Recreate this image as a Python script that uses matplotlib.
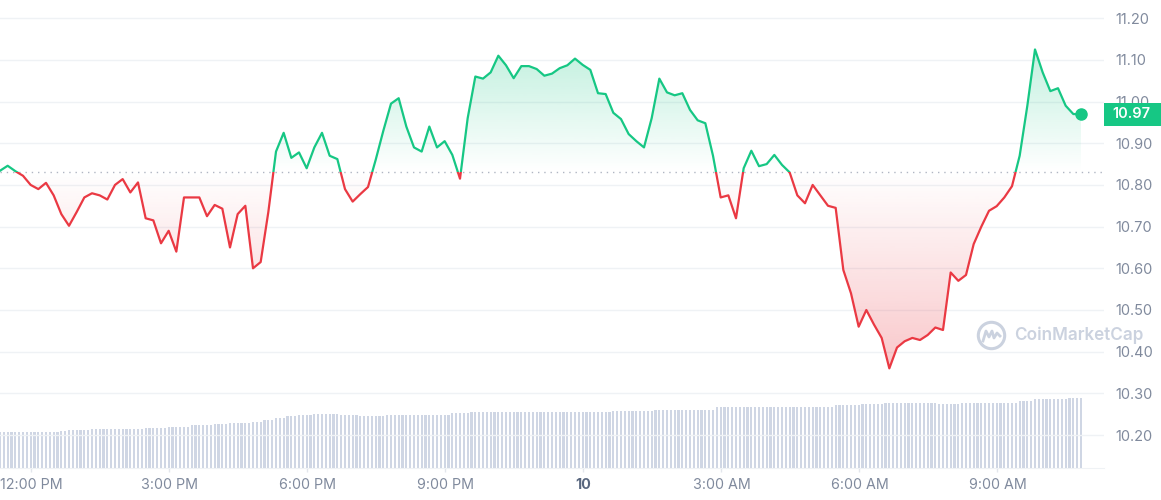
import matplotlib
matplotlib.use("Agg")
import matplotlib.pyplot as plt
import matplotlib.dates as mdates
import matplotlib.colors as mcolors
from matplotlib.patches import Rectangle
from matplotlib.transforms import blended_transform_factory
import numpy as np
import pandas as pd

plt.rcParams['font.family'] = ['Inter', 'DejaVu Sans']

GREEN = '#16c784'
RED = '#ea3943'
GRID = '#eff2f5'
TICK = '#808a9d'

# price, one point every 10 minutes
start = '2023-11-09 11:19'
price = [
    10.834, 10.846, 10.833, 10.822, 10.800, 10.790, 10.805, 10.775, 10.730, 10.702,
    10.735, 10.770, 10.780, 10.775, 10.765, 10.800, 10.814, 10.782, 10.806, 10.720,
    10.715, 10.660, 10.690, 10.640, 10.770, 10.770, 10.770, 10.725, 10.752, 10.743,
    10.650, 10.730, 10.750, 10.600, 10.615, 10.735, 10.880, 10.925, 10.865, 10.878,
    10.840, 10.890, 10.925, 10.870, 10.862, 10.790, 10.760, 10.778, 10.795, 10.860,
    10.930, 10.995, 11.008, 10.940, 10.890, 10.880, 10.940, 10.890, 10.905, 10.872,
    10.815, 10.960, 11.060, 11.055, 11.070, 11.110, 11.087, 11.056, 11.085, 11.085,
    11.078, 11.062, 11.067, 11.080, 11.087, 11.103, 11.088, 11.076, 11.020, 11.018,
    10.973, 10.958, 10.922, 10.905, 10.890, 10.960, 11.055, 11.022, 11.015, 11.020,
    10.980, 10.955, 10.948, 10.870, 10.770, 10.775, 10.720, 10.840, 10.882, 10.845,
    10.850, 10.872, 10.848, 10.830, 10.775, 10.756, 10.800, 10.775, 10.750, 10.745,
    10.596, 10.540, 10.460, 10.500, 10.465, 10.433, 10.360, 10.410, 10.425, 10.433,
    10.428, 10.440, 10.458, 10.452, 10.590, 10.570, 10.584, 10.658, 10.700, 10.738,
    10.749, 10.770, 10.797, 10.870, 10.990, 11.125, 11.070, 11.025, 11.032, 10.990,
    10.970, 10.970,
]
baseline = 10.832

# 24h volume (million USD), one bar every 5 minutes
volume = [
    202, 202, 202, 202, 202, 202, 202, 202, 202, 202, 202, 202,
    202, 202, 202, 202, 205, 205, 211, 211, 211, 211, 211, 211,
    217, 217, 217, 217, 217, 217, 217, 217, 217, 217, 217, 217,
    217, 217, 222, 222, 222, 222, 222, 222, 230, 230, 230, 230,
    230, 230, 238, 238, 238, 238, 238, 238, 244, 244, 244, 244,
    248, 248, 248, 252, 252, 252, 258, 258, 258, 266, 266, 266,
    278, 278, 278, 290, 290, 290, 296, 296, 296, 296, 300, 300,
    300, 300, 300, 300, 300, 294, 294, 294, 294, 294, 290, 290,
    290, 290, 290, 290, 290, 294, 294, 294, 294, 294, 294, 294,
    297, 297, 297, 297, 297, 297, 297, 297, 297, 297, 304, 304,
    304, 304, 304, 309, 309, 309, 309, 309, 309, 309, 309, 309,
    309, 309, 309, 309, 309, 309, 309, 309, 309, 309, 309, 309,
    309, 309, 309, 309, 309, 309, 309, 309, 309, 309, 309, 309,
    309, 309, 309, 309, 314, 314, 314, 314, 314, 314, 314, 314,
    314, 314, 314, 320, 320, 320, 320, 320, 320, 320, 320, 320,
    320, 320, 320, 320, 320, 320, 320, 337, 337, 337, 337, 337,
    337, 337, 337, 337, 337, 337, 337, 337, 337, 337, 337, 337,
    337, 337, 337, 337, 337, 337, 337, 337, 337, 337, 337, 337,
    337, 337, 348, 348, 348, 348, 348, 348, 348, 354, 354, 354,
    354, 354, 354, 363, 363, 363, 363, 363, 363, 363, 363, 363,
    363, 363, 363, 363, 363, 357, 357, 357, 357, 357, 357, 363,
    363, 363, 363, 363, 363, 363, 363, 363, 363, 363, 363, 363,
    363, 363, 372, 372, 372, 372, 381, 381, 381, 381, 381, 381,
    381, 381, 381, 387, 387, 387, 387,
]

y_ticks = [10.20, 10.30, 10.40, 10.50, 10.60, 10.70, 10.80, 10.90, 11.00, 11.10, 11.20]
x_tick_times = ['2023-11-09 12:00', '2023-11-09 15:00', '2023-11-09 18:00', '2023-11-09 21:00',
                '2023-11-10 00:00', '2023-11-10 03:00', '2023-11-10 06:00', '2023-11-10 09:00']
x_tick_labels = ['12:00 PM', '3:00 PM', '6:00 PM', '9:00 PM', '10', '3:00 AM', '6:00 AM', '9:00 AM']

t = mdates.date2num(pd.date_range(start, periods=len(price), freq='10min'))
tv = mdates.date2num(pd.date_range(start, periods=len(volume), freq='5min'))
p = np.array(price)

fig = plt.figure(figsize=(11.61, 5.0), dpi=100)
ax = fig.add_axes([0, 1 - 468 / 500, 1104 / 1161, 468 / 500])
ax2 = ax.twinx()

# volume bars in the background
ax2.bar(tv, volume, width=5 / 1440 * 0.58, color='#cfd6e4', align='center', zorder=1)
ax2.set_ylim(0, 2600)
ax2.set_yticks([])
for s in ax2.spines.values():
    s.set_visible(False)
ax.set_zorder(ax2.get_zorder() + 1)
ax.patch.set_visible(False)

# gradient fills clipped to the area between price and baseline
area = ax.fill_between(t, p, baseline, facecolor='none', edgecolor='none')
clip = area.get_paths()[0]


def gradient(color, y0, y1, a0, a1):
    img = np.zeros((256, 1, 4))
    img[:, :, :3] = mcolors.to_rgb(color)
    img[:, 0, 3] = np.linspace(a0, a1, 256)
    im = ax.imshow(img, extent=[t[0], t[-1], y0, y1], origin='lower',
                   aspect='auto', interpolation='bilinear', zorder=1)
    im.set_clip_path(clip, ax.transData)


gradient(GREEN, baseline, p.max(), 0.0, 0.26)
gradient(RED, p.min(), baseline, 0.28, 0.0)

# line: green above baseline, red below
up = Rectangle((t[0] - 1, baseline), 3, 10, transform=ax.transData)
down = Rectangle((t[0] - 1, baseline - 10), 3, 10, transform=ax.transData)
l1, = ax.plot(t, p, color=GREEN, lw=1.6, zorder=4, solid_joinstyle='round')
l2, = ax.plot(t, p, color=RED, lw=1.6, zorder=4, solid_joinstyle='round')
l1.set_clip_path(up)
l2.set_clip_path(down)
ax.plot(t[-1], p[-1], 'o', ms=8, color=GREEN, zorder=5, clip_on=False)

ax.axhline(baseline, color='#b0b6c3', lw=1, ls=(0, (1, 3.5)), zorder=3)

ax.set_xlim(t[0], t[0] + 1.0)
ax.set_ylim(10.121, 11.2436)

ax.yaxis.tick_right()
ax.set_yticks(y_ticks)
ax.set_yticklabels([f'{v:.2f}' for v in y_ticks])
ax.tick_params(axis='y', length=0, pad=8, labelsize=10.5, labelcolor=TICK)
ax.grid(axis='y', color=GRID, lw=1)
ax.set_axisbelow(True)

ax.set_xticks(mdates.date2num(pd.to_datetime(x_tick_times)))
ax.set_xticklabels(x_tick_labels)
ax.tick_params(axis='x', length=3, width=1, color='#e3e6ec', pad=4,
               labelsize=10.3, labelcolor=TICK)
lbl = ax.get_xticklabels()[4]
lbl.set_fontweight('bold')
lbl.set_color('#58667e')

for side in ['top', 'left', 'right']:
    ax.spines[side].set_visible(False)
ax.spines['bottom'].set_color(GRID)

# current price tag
tr = blended_transform_factory(ax.transAxes, ax.transData)
ax.add_patch(Rectangle((1.0, p[-1] - 0.0275), 0.052, 0.055, transform=tr,
                       facecolor=GREEN, edgecolor='none', clip_on=False, zorder=10))
ax.text(1.0245, p[-1], f'{p[-1]:.2f}', transform=tr, ha='center', va='center',
        color='white', fontsize=10.5, fontweight='semibold', zorder=11)

# watermark
wm = '#cbd2df'
cx, cy = 991 / 1104, (468 - 335) / 468
ax.plot(cx, cy, 'o', transform=ax.transAxes, ms=19, mfc='none', mec=wm, mew=2.2, zorder=2)
wave_x = [-8, -5, -2, 1, 3, 6, 9]
wave_y = [-6, 4, -2, 4, -3, 2, -1]
ax.plot([cx + v / 1104 for v in wave_x], [cy + v / 468 for v in wave_y],
        transform=ax.transAxes, color=wm, lw=2, zorder=2, solid_joinstyle='round')
ax.text(1014 / 1104, cy, 'CoinMarketCap', transform=ax.transAxes, ha='left', va='center',
        color=wm, fontsize=12.3, fontweight='semibold', zorder=2)

fig.savefig('out.png', dpi=100, facecolor='white')
